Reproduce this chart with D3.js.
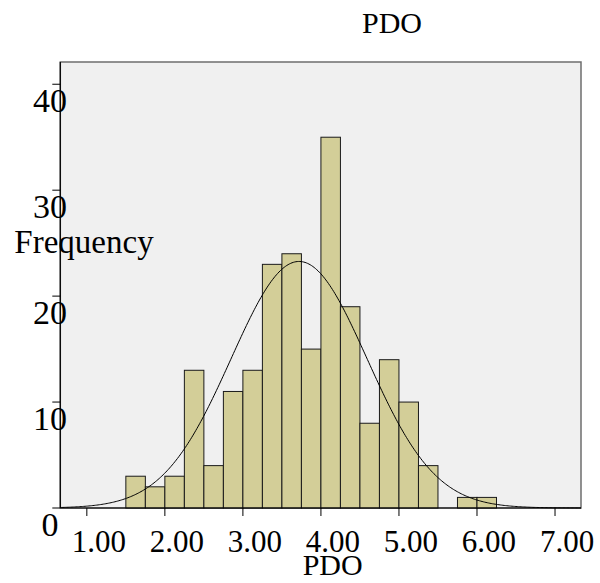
<!DOCTYPE html>
<html>
<head>
<meta charset="utf-8">
<script src="https://cdn.jsdelivr.net/npm/d3@7"></script>
<style>
  html, body { margin: 0; padding: 0; background: #ffffff; }
  svg { display: block; }
  text { font-family: "Liberation Serif", "DejaVu Serif", serif; fill: #000; }
</style>
</head>
<body>
<svg id="chart" width="600" height="583"></svg>
<script>
// ---- data ----
const chartTitle = "PDO";
const xLabel = "PDO";
const yLabel = "Frequency";
const binLower = [1.50, 1.75, 2.00, 2.25, 2.50, 2.75, 3.00, 3.25, 3.50, 3.75, 4.00, 4.25, 4.50, 4.75, 5.00, 5.25, 5.50, 5.75, 6.00];
const binWidth = 0.25;
const counts   = [3, 2, 3, 13, 4, 11, 13, 23, 24, 15, 35, 19, 8, 14, 10, 4, 0, 1, 1];
const xTicks = [1, 2, 3, 4, 5, 6, 7];
const xTickLabels = ["1.00", "2.00", "3.00", "4.00", "5.00", "6.00", "7.00"];
const yTicks = [0, 10, 20, 30, 40];
const yTickLabels = ["0", "10", "20", "30", "40"];
const fitMean = 3.72;
const fitSD = 0.87;

// ---- layout ----
const plot = { left: 60.3, right: 581, top: 62, bottom: 508 };
const svg = d3.select("#chart");

const x = d3.scaleLinear().domain([0.66, 7.333]).range([plot.left, plot.right]);
const y = d3.scaleLinear().domain([0, 42.1]).range([plot.bottom, plot.top]);

// plot background + frame
svg.append("rect")
  .attr("x", plot.left).attr("y", plot.top)
  .attr("width", plot.right - plot.left).attr("height", plot.bottom - plot.top)
  .attr("fill", "#f0f0f0")
  .attr("stroke", "#6e6e6e").attr("stroke-width", 1.5);

// bars
const bins = binLower.map((b, i) => ({ x0: b, x1: b + binWidth, n: counts[i] }));
svg.append("g").selectAll("rect")
  .data(bins.filter(d => d.n > 0))
  .join("rect")
  .attr("x", d => x(d.x0))
  .attr("y", d => y(d.n))
  .attr("width", d => x(d.x1) - x(d.x0))
  .attr("height", d => y(0) - y(d.n))
  .attr("fill", "#d3ce98")
  .attr("stroke", "#1a1a1a")
  .attr("stroke-width", 1);

// normal curve
const total = d3.sum(counts);
const dens = v => total * binWidth / (fitSD * Math.sqrt(2 * Math.PI)) *
  Math.exp(-0.5 * Math.pow((v - fitMean) / fitSD, 2));
const curvePts = d3.range(0, 401).map(i => {
  const v = x.domain()[0] + (x.domain()[1] - x.domain()[0]) * i / 400;
  return [v, dens(v)];
});
svg.append("path")
  .datum(curvePts)
  .attr("fill", "none")
  .attr("stroke", "#000")
  .attr("stroke-width", 1)
  .attr("d", d3.line().x(d => x(d[0])).y(d => y(d[1])));

// axes lines
svg.append("line")
  .attr("x1", plot.left).attr("x2", plot.left)
  .attr("y1", plot.top).attr("y2", plot.bottom)
  .attr("stroke", "#000").attr("stroke-width", 1.2);
svg.append("line")
  .attr("x1", plot.left - 8).attr("x2", plot.right)
  .attr("y1", plot.bottom).attr("y2", plot.bottom)
  .attr("stroke", "#000").attr("stroke-width", 1.2);

// y ticks
const yg = svg.append("g");
yg.selectAll("line").data(yTicks.filter(t => t > 0)).join("line")
  .attr("x1", plot.left - 8).attr("x2", plot.left)
  .attr("y1", d => y(d)).attr("y2", d => y(d))
  .attr("stroke", "#000").attr("stroke-width", 1);
yg.selectAll("text").data(yTicks).join("text")
  .attr("x", 50)
  .attr("y", d => y(d) + 28)
  .attr("text-anchor", "middle")
  .attr("font-size", 34)
  .text((d, i) => yTickLabels[i]);

// x ticks
const xg = svg.append("g");
xg.selectAll("line").data(xTicks).join("line")
  .attr("x1", d => x(d)).attr("x2", d => x(d))
  .attr("y1", plot.bottom).attr("y2", plot.bottom + 8)
  .attr("stroke", "#000").attr("stroke-width", 1);
xg.selectAll("text").data(xTicks).join("text")
  .attr("x", d => x(d) + 12)
  .attr("y", plot.bottom + 44)
  .attr("text-anchor", "middle")
  .attr("font-size", 31)
  .text((d, i) => xTickLabels[i]);

// titles
svg.append("text")
  .attr("x", 392).attr("y", 33)
  .attr("text-anchor", "middle")
  .attr("font-size", 30)
  .text(chartTitle);
svg.append("text")
  .attr("x", (plot.left + plot.right) / 2 + 12).attr("y", 575)
  .attr("text-anchor", "middle")
  .attr("font-size", 30)
  .text(xLabel);
svg.append("text")
  .attr("x", 84).attr("y", 253)
  .attr("text-anchor", "middle")
  .attr("font-size", 33)
  .text(yLabel);
</script>
</body>
</html>
